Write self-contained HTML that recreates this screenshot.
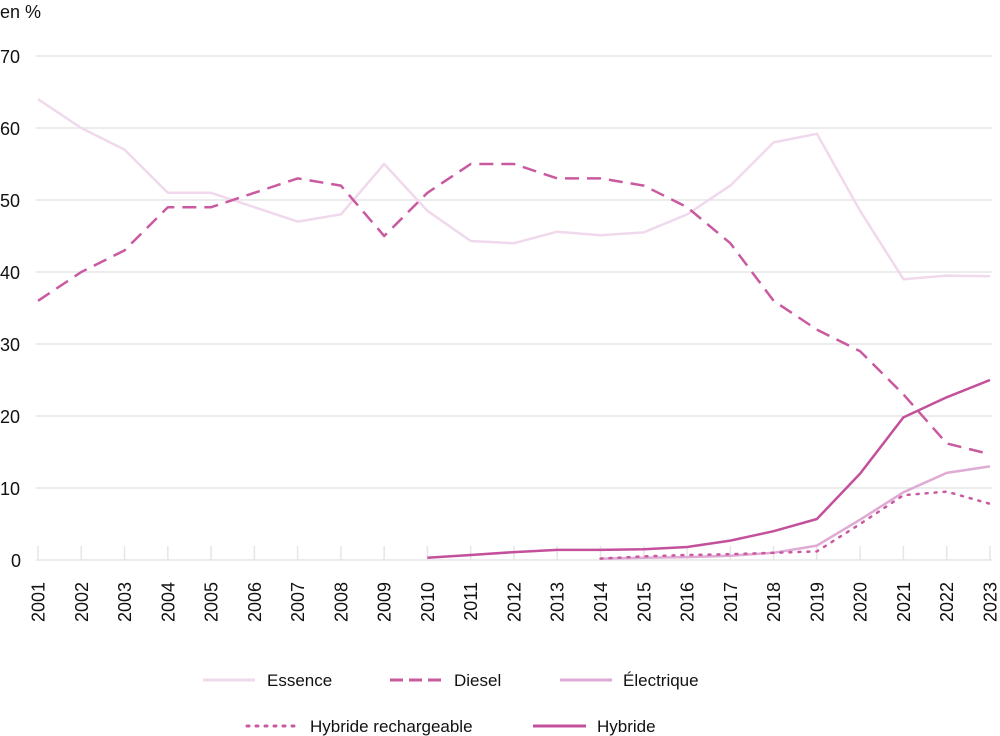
<!DOCTYPE html>
<html><head><meta charset="utf-8"><style>body{margin:0;background:#fff}svg{display:block;font-family:"Liberation Sans",sans-serif}</style></head><body>
<svg width="1000" height="736" viewBox="0 0 1000 736">
<g stroke="#e6e6e6" stroke-width="1.5">
<line x1="36" x2="992" y1="56" y2="56"/><line x1="36" x2="992" y1="128" y2="128"/><line x1="36" x2="992" y1="200" y2="200"/><line x1="36" x2="992" y1="272" y2="272"/><line x1="36" x2="992" y1="344" y2="344"/><line x1="36" x2="992" y1="416" y2="416"/><line x1="36" x2="992" y1="488" y2="488"/><line x1="36" x2="992" y1="560" y2="560"/>
</g>
<g stroke="#e6e6e6" stroke-width="1.5" id="ticks"></g>
<g font-size="18" fill="#111">
<text x="0" y="18">en %</text>
<text x="0" y="63">70</text><text x="0" y="135">60</text><text x="0" y="207">50</text><text x="0" y="279">40</text><text x="0" y="351">30</text><text x="0" y="423">20</text><text x="0" y="495">10</text><text x="11" y="567">0</text>
</g>
<g id="xl" font-size="18" fill="#111"></g>
<g fill="none" stroke-linejoin="round">
<polyline stroke="#f0d9ec" stroke-width="2.5" points="38,99.2 81.3,128 124.5,149.6 167.8,192.8 211.1,192.8 254.4,207.2 297.6,221.6 340.9,214.4 384.2,164 427.4,210.8 470.7,241 514,243.2 557.2,231.7 600.5,235.3 643.8,232.4 687.1,214.4 730.3,185.6 773.6,142.4 816.9,133.8 860.1,210.8 903.4,279.2 946.7,275.6 990,276.3"/>
<polyline stroke="#c95aa0" stroke-width="2.5" stroke-dasharray="14,8" points="38,300.8 81.3,272 124.5,250.4 167.8,207.2 211.1,207.2 254.4,192.8 297.6,178.4 340.9,185.6 384.2,236 427.4,192.8 470.7,164 514,164 557.2,178.4 600.5,178.4 643.8,185.6 687.1,207.2 730.3,243.2 773.6,300.8 816.9,329.6 860.1,351.2 903.4,394.4 946.7,443.4 990,454.2"/>
<polyline stroke="#dfaad4" stroke-width="2.5" points="600.5,558.6 643.8,557.8 687.1,557.1 730.3,555.7 773.6,552.8 816.9,545.6 860.1,519.7 903.4,492.3 946.7,472.9 990,466.4"/>
<polyline stroke="#c95aa0" stroke-width="2.5" stroke-dasharray="2,7" stroke-linecap="round" points="600.5,558.6 643.8,556.4 687.1,555 730.3,554.2 773.6,552.8 816.9,551.4 860.1,524 903.4,495.2 946.7,491.6 990,503.8"/>
<polyline stroke="#c4509b" stroke-width="2.5" points="427.4,557.8 470.7,555 514,552.1 557.2,549.9 600.5,549.9 643.8,549.2 687.1,547 730.3,540.6 773.6,531.2 816.9,519 860.1,473.6 903.4,417.4 946.7,397.3 990,380"/>
</g>
<g stroke-width="3">
<line x1="203" x2="255" y1="680" y2="680" stroke="#f0d9ec"/>
<line x1="390" x2="442" y1="680" y2="680" stroke="#c95aa0" stroke-dasharray="13,6"/>
<line x1="560" x2="612" y1="680" y2="680" stroke="#dfaad4"/>
<line x1="247" x2="298" y1="726" y2="726" stroke="#c95aa0" stroke-dasharray="2,7" stroke-linecap="round"/>
<line x1="533" x2="586" y1="726" y2="726" stroke="#c4509b"/>
</g>
<g font-size="17" fill="#111">
<text x="267" y="686">Essence</text><text x="454" y="686">Diesel</text><text x="623" y="686">Électrique</text>
<text x="310" y="732">Hybride rechargeable</text><text x="597" y="732">Hybride</text>
</g>
<script>
var t=document.getElementById('ticks'),l=document.getElementById('xl'),ns='http://www.w3.org/2000/svg';
for(var i=0;i<23;i++){var x=38+43.27*i;
var ln=document.createElementNS(ns,'line');ln.setAttribute('x1',x);ln.setAttribute('x2',x);ln.setAttribute('y1',546);ln.setAttribute('y2',560);t.appendChild(ln);
var tx=document.createElementNS(ns,'text');tx.setAttribute('transform','translate('+(x+6.5)+',582) rotate(-90)');tx.setAttribute('text-anchor','end');tx.textContent=2001+i;l.appendChild(tx);}
</script>
</svg>
</body></html>
